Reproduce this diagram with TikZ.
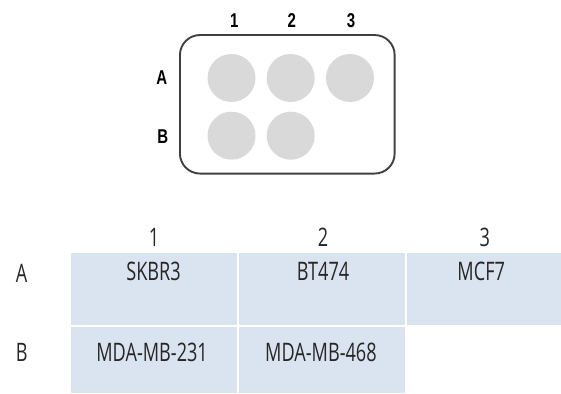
\documentclass[tikz,border=0pt]{standalone}
\usepackage{fontspec}
\setmainfont{Open Sans}
\newfontfamily\cellfont[FakeStretch=0.71]{Open Sans}
\newfontfamily\platefont[FakeStretch=0.75]{Liberation Sans}
\usetikzlibrary{positioning}
\definecolor{cellblue}{RGB}{218,227,240}
\definecolor{wellgray}{RGB}{217,217,217}
\definecolor{platerim}{RGB}{64,64,64}

\begin{document}
\begin{tikzpicture}[x=1pt, y=-1pt,
	plate/.style={draw=platerim, line width=1.9pt, rounded corners=20pt, minimum width=214.7pt, minimum height=138.5pt, inner sep=0pt},
	well/.style={circle, fill=wellgray, draw=none, minimum size=48pt, inner sep=0pt},
	platelab/.style={font=\platefont\bfseries\fontsize{20}{20}\selectfont, inner sep=0pt},
	cell/.style={fill=cellblue, draw=none, anchor=north west, inner sep=0pt},
	celltext/.style={font=\cellfont\fontsize{25.5}{25.5}\selectfont, text=black!85, inner sep=0pt}]

	\useasboundingbox (0,0) rectangle (561,393);

	% plate with wells
	\node (plate) [plate] at (287.3,104.3) {};
	\node (wellA1) [well] at (231.5,78) {};
	\node (wellA2) [well] at (290.7,78) {};
	\node (wellA3) [well] at (350,78) {};
	\node (wellB1) [well] at (231.5,135.7) {};
	\node (wellB2) [well] at (290.7,135.7) {};

	\node (pcol1) [platelab] at (234.3,20.7) {1};
	\node (pcol2) [platelab] at (291.7,20.7) {2};
	\node (pcol3) [platelab] at (351,20.7) {3};
	\node (prowA) [platelab] at (161.7,77.7) {A};
	\node (prowB) [platelab] at (162.7,136.7) {B};

	% table of cell lines
	\node (cellA1) [cell, minimum width=166.3pt, minimum height=72.3pt] at (70.7,252.7) {};
	\node (cellA2) [cell, minimum width=166pt, minimum height=72.3pt] at (239,252.7) {};
	\node (cellA3) [cell, minimum width=154pt, minimum height=72.3pt] at (407,252.7) {};
	\node (cellB1) [cell, minimum width=166.3pt, minimum height=66pt] at (70.7,327) {};
	\node (cellB2) [cell, minimum width=166pt, minimum height=66pt] at (239,327) {};

	\node (tcol1) [celltext] at (154,237.5) {1};
	\node (tcol2) [celltext] at (323.1,237.5) {2};
	\node (tcol3) [celltext] at (484.8,237.5) {3};
	\node (trowA) [celltext] at (21.7,273.5) {A};
	\node (trowB) [celltext] at (21.7,352.5) {B};

	\node (nameA1) [celltext] at (153.5,271.5) {SKBR3};
	\node (nameA2) [celltext] at (323.1,271.5) {BT474};
	\node (nameA3) [celltext] at (481.2,271.5) {MCF7};
	\node (nameB1) [celltext] at (152.1,352.5) {MDA-MB-231};
	\node (nameB2) [celltext] at (320.9,352.5) {MDA-MB-468};

\end{tikzpicture}
\end{document}
